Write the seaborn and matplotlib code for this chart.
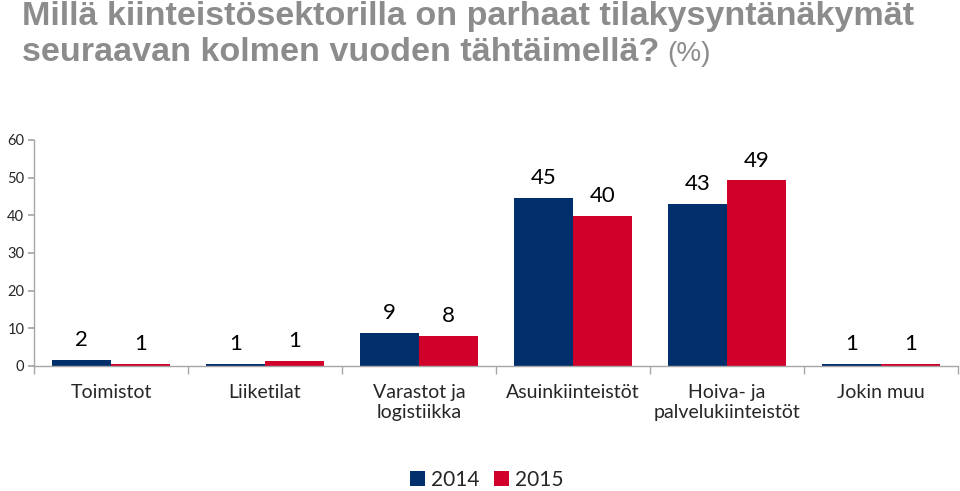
import matplotlib
matplotlib.use("Agg")
import matplotlib.pyplot as plt
import seaborn as sns
import pandas as pd
import numpy as np

categories = ["Toimistot", "Liiketilat", "Varastot ja\nlogistiikka", "Asuinkiinteistöt",
              "Hoiva- ja\npalvelukiinteistöt", "Jokin muu"]
years = ["2014", "2015"]
values_2014 = [1.6, 0.6, 8.7, 44.6, 43.0, 0.6]
values_2015 = [0.6, 1.3, 8.0, 39.8, 49.3, 0.6]
labels_2014 = ["2", "1", "9", "45", "43", "1"]
labels_2015 = ["1", "1", "8", "40", "49", "1"]

df = pd.DataFrame({
    "Sektori": categories * 2,
    "Vuosi": [years[0]] * len(categories) + [years[1]] * len(categories),
    "Arvo": values_2014 + values_2015,
})

sns.set_theme(style="white")
body_font = ["Lato", "DejaVu Sans"]
plt.rcParams["font.family"] = body_font

fig = plt.figure(figsize=(9.6, 4.91), dpi=100)
ax = fig.add_axes([0.0354, 0.2546, 0.9625, 0.4603])

palette = {"2014": "#002f6c", "2015": "#d0002b"}
sns.barplot(data=df, x="Sektori", y="Arvo", hue="Vuosi", palette=palette,
            width=0.766, saturation=1, ax=ax, legend=True, linewidth=0)

for cont, labs in zip(ax.containers, [labels_2014, labels_2015]):
    ax.bar_label(cont, labels=labs, padding=7, fontsize=16, color="#000000")

ax.set_ylim(0, 60)
ax.set_xlim(-0.5, len(categories) - 0.5)
ax.set_yticks(range(0, 61, 10))
ax.tick_params(axis="y", labelsize=10.5, length=4, color="#a6a6a6", left=True, pad=3)
ax.tick_params(axis="x", labelsize=14, length=0, pad=13)
ax.set_xticks(np.arange(-0.5, len(categories), 1.0), minor=True)
ax.tick_params(axis="x", which="minor", length=6, color="#a6a6a6", bottom=True)
ax.set_xlabel("")
ax.set_ylabel("")
for s in ["top", "right"]:
    ax.spines[s].set_visible(False)
for s in ["left", "bottom"]:
    ax.spines[s].set_color("#a6a6a6")
    ax.spines[s].set_linewidth(1)

leg = ax.legend(loc="center", ncol=2, frameon=False, fontsize=15, handlelength=0.7,
                handleheight=0.7, handletextpad=0.3, columnspacing=0.7)
leg.set_bbox_to_anchor((0.507, 1 - 480 / 491), transform=fig.transFigure)

title_font = ["Liberation Sans Narrow", "Liberation Sans", "DejaVu Sans"]
fig.text(0.023, 1 - 25 / 491, "Millä kiinteistösektorilla on parhaat tilakysyntänäkymät",
         fontsize=24.6, fontweight="bold", color="#8c8c8c", family=title_font, va="baseline")
t2 = fig.text(0.023, 1 - 61 / 491, "seuraavan kolmen vuoden tähtäimellä?",
              fontsize=24.6, fontweight="bold", color="#8c8c8c", family=title_font, va="baseline")
fig.canvas.draw()
bb = t2.get_window_extent()
fig.text(bb.x1 / fig.bbox.width + 0.008, 1 - 61 / 491, "(%)", fontsize=20,
         color="#8c8c8c", family=title_font, va="baseline")

fig.savefig("out.png", dpi=100)
